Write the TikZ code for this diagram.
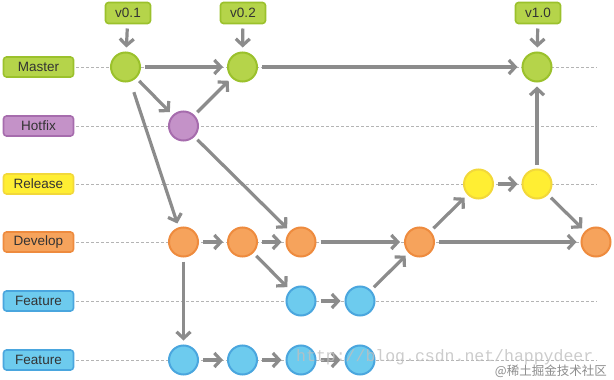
\documentclass[tikz,border=0pt]{standalone}
\usepackage{fontspec}
\setmainfont{Liberation Sans}
\newfontfamily\wmfont{Liberation Mono}
\newfontfamily\cjkfont{Noto Sans CJK SC}
\usetikzlibrary{arrows.meta}
\definecolor{gfill}{HTML}{B5D44A}\definecolor{gline}{HTML}{9BC12C}
\definecolor{pfill}{HTML}{C492C8}\definecolor{pline}{HTML}{A66CAD}
\definecolor{yfill}{HTML}{FFEE33}\definecolor{yline}{HTML}{F2D83A}
\definecolor{ofill}{HTML}{F6A35C}\definecolor{oline}{HTML}{EE8B3E}
\definecolor{bfill}{HTML}{6DCBEE}\definecolor{bline}{HTML}{4AA6DE}
\definecolor{arr}{HTML}{8C8C8C}
\definecolor{txt}{HTML}{333333}
\definecolor{dash}{HTML}{B4B4B4}
\tikzset{
  commit/.style={circle,minimum size=29pt,inner sep=0pt,line width=2pt,outer sep=5pt},
  lbl/.style={rounded corners=3pt,minimum width=70pt,minimum height=20pt,inner sep=0pt,line width=1.6pt,text=txt,font=\fontsize{13.5}{14}\selectfont},
  tagbox/.style={rounded corners=3pt,minimum width=45pt,minimum height=21pt,inner sep=0pt,line width=1.6pt,text=txt,font=\fontsize{13.5}{14}\selectfont,draw=gline,fill=gfill,outer sep=5pt},
  G/.style={commit,draw=gline,fill=gfill},
  P/.style={commit,draw=pline,fill=pfill},
  Y/.style={commit,draw=yline,fill=yfill},
  O/.style={commit,draw=oline,fill=ofill},
  B/.style={commit,draw=bline,fill=bfill},
  link/.style={draw=arr,line width=3.2pt,-{Straight Barb[length=6.5pt,width=14pt]}},
  lane/.style={draw=dash,line width=0.8pt,dash pattern=on 3pt off 2pt},
}
\begin{document}
\begin{tikzpicture}[x=1pt,y=-1pt]
\useasboundingbox (0,0) rectangle (614,380);
% labels
\node[lbl,draw=gline,fill=gfill] (lm) at (38.5,67) {Master};
\node[lbl,draw=pline,fill=pfill] (lh) at (38.5,126) {Hotfix};
\node[lbl,draw=yline,fill=yfill] (lr) at (38.5,184) {Release};
\node[lbl,draw=oline,fill=ofill] (ld) at (38.5,242) {Develop};
\node[lbl,draw=bline,fill=bfill] (lf) at (38.5,301) {Feature};
\node[lbl,draw=bline,fill=bfill] (lg) at (38.5,360) {Feature};
% lanes
\coordinate (em) at (597,67);
\coordinate (eh) at (597,126);
\coordinate (er) at (597,184);
\coordinate (ed) at (597,242);
\coordinate (ef) at (597,301);
\coordinate (eg) at (597,360);
\draw[lane] (lm.east) ++(2,0) -- (em);
\draw[lane] (lh.east) ++(2,0) -- (eh);
\draw[lane] (lr.east) ++(2,0) -- (er);
\draw[lane] (ld.east) ++(2,0) -- (ed);
\draw[lane] (lf.east) ++(2,0) -- (ef);
\draw[lane] (lg.east) ++(2,0) -- (eg);
% tags
\node[tagbox] (t1) at (128,13) {v0.1};
\node[tagbox] (t2) at (243,13) {v0.2};
\node[tagbox] (t3) at (538,13) {v1.0};
% commits
\node[G] (m1) at (125.5,67) {};
\node[G] (m2) at (242.5,67) {};
\node[G] (m3) at (537,67) {};
\node[P] (h1) at (183.5,126) {};
\node[Y] (r1) at (478.5,184) {};
\node[Y] (r2) at (537,184) {};
\node[O] (d1) at (183.5,242) {};
\node[O] (d2) at (242.5,242) {};
\node[O] (d3) at (301,242) {};
\node[O] (d4) at (419.5,242) {};
\node[O] (d5) at (596,242) {};
\node[B] (f1) at (301,301) {};
\node[B] (f2) at (360,301) {};
\node[B] (g1) at (183.5,360) {};
\node[B] (g2) at (242.5,360) {};
\node[B] (g3) at (301,360) {};
\node[B] (g4) at (360,360) {};
% connectors
\draw[link] (t1) -- (m1);
\draw[link] (t2) -- (m2);
\draw[link] (t3) -- (m3);
\draw[link] (m1) -- (m2);
\draw[link] (m2) -- (m3);
\draw[link] (m1) -- (h1);
\draw[link] (h1) -- (m2);
\draw[link,shorten <=7pt] (m1) -- (d1);
\draw[link] (h1) -- (d3);
\draw[link] (d1) -- (d2);
\draw[link] (d2) -- (d3);
\draw[link] (d3) -- (d4);
\draw[link] (d4) -- (d5);
\draw[link] (d2) -- (f1);
\draw[link] (f1) -- (f2);
\draw[link] (f2) -- (d4);
\draw[link] (d4) -- (r1);
\draw[link] (r1) -- (r2);
\draw[link] (r2) -- (m3);
\draw[link] (r2) -- (d5);
\draw[link] (d1) -- (g1);
\draw[link] (g1) -- (g2);
\draw[link] (g2) -- (g3);
\draw[link] (g3) -- (g4);
% watermark
\node[anchor=base west,inner sep=0pt,text=black!25,opacity=0.8,font=\wmfont\fontsize{16.5}{17}\selectfont] (wm) at (296,361) {http://blog.csdn.net/happydeer};
\node[anchor=east,inner sep=0pt,text=black!45,font=\cjkfont\fontsize{12.5}{13}\selectfont] (wm2) at (607,371) {@稀土掘金技术社区};
\end{tikzpicture}
\end{document}
